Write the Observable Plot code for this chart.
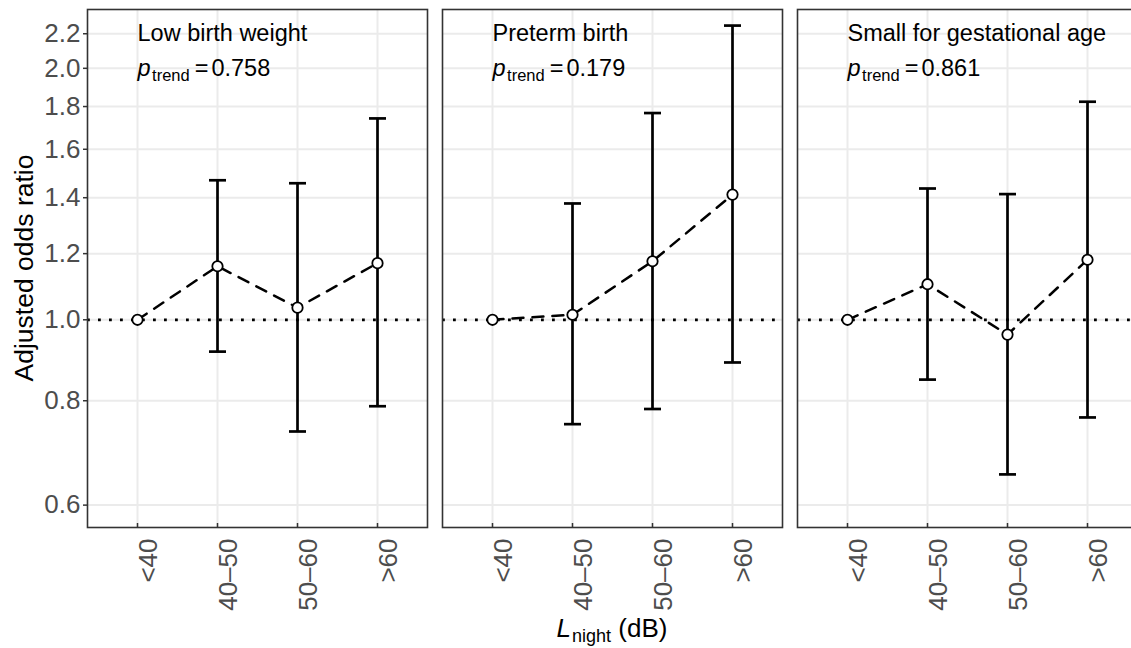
<!DOCTYPE html>
<html>
<head>
<meta charset="utf-8">
<script src="https://cdn.jsdelivr.net/npm/d3@7"></script>
<script src="https://cdn.jsdelivr.net/npm/@observablehq/plot@0.6"></script>
<style>
  html, body { margin: 0; padding: 0; background: #fff; overflow: hidden; }
  #chart { width: 1131px; height: 648px; overflow: hidden; }
</style>
</head>
<body>
<div id="chart"></div>
<script>
// ---- Data ----
const outcomes = ["Low birth weight", "Preterm birth", "Small for gestational age"];
const pTrend = ["0.758", "0.179", "0.861"];
const categories = ["<40", "40–50", "50–60", ">60"];

const lbwOR    = [1.000, 1.159, 1.034, 1.169];
const lbwLower = [null,  0.916, 0.735, 0.788];
const lbwUpper = [null,  1.469, 1.457, 1.742];

const ptbOR    = [1.000, 1.014, 1.175, 1.412];
const ptbLower = [null,  0.750, 0.782, 0.889];
const ptbUpper = [null,  1.378, 1.768, 2.250];

const sgaOR    = [1.000, 1.103, 0.960, 1.180];
const sgaLower = [null,  0.848, 0.653, 0.764];
const sgaUpper = [null,  1.436, 1.414, 1.824];

const yTicks = [0.6, 0.8, 1.0, 1.2, 1.4, 1.6, 1.8, 2.0, 2.2];
const yDomain = [0.5641, 2.352];

// ---- Build tables ----
const series = [
  [lbwOR, lbwLower, lbwUpper],
  [ptbOR, ptbLower, ptbUpper],
  [sgaOR, sgaLower, sgaUpper]
];
const rows = [];
outcomes.forEach((o, i) => {
  const [or, lo, hi] = series[i];
  categories.forEach((c, j) => rows.push({outcome: o, cat: c, or: or[j], lo: lo[j], hi: hi[j]}));
});
const ciRows = rows.filter(d => d.lo != null && d.hi != null);
const panels = outcomes.map((o, i) => ({outcome: o, p: pTrend[i]}));

const capSymbol = {draw(ctx) { ctx.moveTo(-8.5, 0); ctx.lineTo(8.5, 0); }};

const W = 1140, H = 648;
const mL = 87, mR = 3, mT = 9, mB = 121;
const gap = 15;
const panelW = (W - mL - mR - 2 * gap) / 3;
const step = panelW + gap;

const chart = Plot.plot({
  width: W,
  height: H,
  marginLeft: mL, marginRight: mR, marginTop: mT, marginBottom: mB,
  style: {fontFamily: "'Liberation Sans', Arial, Helvetica, sans-serif", background: "white", maxWidth: "none", overflow: "visible"},
  fx: {domain: outcomes, paddingInner: gap / step, paddingOuter: 0, axis: null, label: null},
  x: {type: "point", domain: categories, padding: 0.6},
  y: {type: "log", domain: yDomain},
  marks: [
    Plot.gridY(yTicks, {stroke: "#ebebeb", strokeOpacity: 1, strokeWidth: 2}),
    Plot.gridX(categories, {stroke: "#ebebeb", strokeOpacity: 1, strokeWidth: 2}),
    Plot.axisY(yTicks, {tickSize: 4, tickPadding: 3, tickFormat: d3.format(".1f"), fontSize: 26,
      stroke: "#333333", strokeWidth: 1.5, fill: "#4d4d4d", label: null}),
    Plot.axisX({tickSize: 0, tickPadding: 11, tickRotate: -90, textAnchor: "end", lineAnchor: "middle",
      dx: 11, fontSize: 26, fill: "#4d4d4d", label: null}),
    Plot.axisX({tickSize: 4, dy: -4, stroke: "#333333", strokeWidth: 1.5, fill: "none", label: null}),
    Plot.ruleY([1], {stroke: "black", strokeWidth: 2.8, strokeDasharray: "2.8,8.2"}),
    Plot.ruleX(ciRows, {fx: "outcome", x: "cat", y1: "lo", y2: "hi", stroke: "black", strokeWidth: 2.7}),
    Plot.dot(ciRows, {fx: "outcome", x: "cat", y: "hi", symbol: capSymbol, fill: "none", stroke: "black", strokeWidth: 2.7}),
    Plot.dot(ciRows, {fx: "outcome", x: "cat", y: "lo", symbol: capSymbol, fill: "none", stroke: "black", strokeWidth: 2.7}),
    Plot.line(rows, {fx: "outcome", x: "cat", y: "or", z: "outcome", stroke: "black", strokeWidth: 2.5, strokeDasharray: "11,9"}),
    Plot.dot(rows, {fx: "outcome", x: "cat", y: "or", r: 5.2, fill: "white", stroke: "black", strokeWidth: 1.8}),
    Plot.text(panels, {fx: "outcome", x: () => categories[0], y: () => 2.2, text: "outcome",
      textAnchor: "start", fontSize: 23.5, fill: "black"}),
    Plot.text(panels, {fx: "outcome", x: () => categories[0], y: () => 2.0, text: d => "PTREND:" + d.p,
      textAnchor: "start", fontSize: 23.5, fill: "black"}),
    Plot.frame({stroke: "#333333", strokeWidth: 1.6})
  ]
});

const svg = d3.select(chart);
// rich text for p_trend labels
svg.selectAll("text").each(function() {
  const t = this.textContent;
  if (t.startsWith("PTREND:")) {
    const val = t.slice(7);
    const sel = d3.select(this);
    sel.text(null);
    sel.append("tspan").attr("font-style", "italic").text("p");
    sel.append("tspan").attr("font-size", 16.5).attr("dx", 1.5).attr("dy", 5).text("trend");
    sel.append("tspan").attr("dx", 5).attr("dy", -5).text("=");
    sel.append("tspan").attr("dx", 3).text(val);
  }
});

// axis titles
const plotTop = mT, plotBottom = H - mB;
svg.append("text")
  .attr("transform", `translate(33,${(plotTop + plotBottom) / 2}) rotate(-90)`)
  .attr("text-anchor", "middle").attr("fill", "black").attr("font-size", 26.5)
  .text("Adjusted odds ratio");
const xt = svg.append("text")
  .attr("x", (mL + W - mR) / 2).attr("y", 637)
  .attr("text-anchor", "middle").attr("fill", "black").attr("font-size", 26);
xt.append("tspan").attr("font-style", "italic").text("L");
xt.append("tspan").attr("font-size", 18).attr("dx", 1).attr("dy", 5).text("night");
xt.append("tspan").attr("dy", -5).text(" (dB)");

document.getElementById("chart").appendChild(chart);
</script>
</body>
</html>
